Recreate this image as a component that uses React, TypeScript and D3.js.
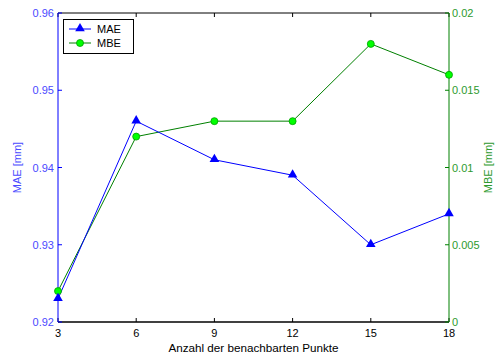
import React from "react";
import * as d3 from "d3";

const xValues = [3, 6, 9, 12, 15, 18];
const maeValues = [0.923, 0.946, 0.941, 0.939, 0.930, 0.934];
const mbeValues = [0.002, 0.012, 0.013, 0.013, 0.018, 0.016];
const xTicks = [3, 6, 9, 12, 15, 18];
const leftTicks = [0.92, 0.93, 0.94, 0.95, 0.96];
const rightTicks = [0, 0.005, 0.01, 0.015, 0.02];
const seriesNames = ["MAE", "MBE"];

const W = 501, H = 360;
const L = 58, R = 449, T = 13, B = 322;
const FONT = "'Liberation Sans', Arial, sans-serif";
const BLUE = "#0000ff";
const BLUE_TXT = "#4a4aff";
const GREEN = "#008000";
const GREEN_TXT = "#2e9a2e";

export default function App() {
  const x = d3.scaleLinear().domain([3, 18]).range([L, R]);
  const yL = d3.scaleLinear().domain([0.92, 0.96]).range([B, T]);
  const yR = d3.scaleLinear().domain([0, 0.02]).range([B, T]);
  const maeLine = d3.line<number>().x((_, i) => x(xValues[i])).y((d) => yL(d))(maeValues) || "";
  const mbeLine = d3.line<number>().x((_, i) => x(xValues[i])).y((d) => yR(d))(mbeValues) || "";
  const tri = d3.symbol().type(d3.symbolTriangle).size(40)() || "";
  const fmtR = (v: number) => (v === 0 ? "0" : String(+v.toFixed(3)));

  return (
    <svg width={W} height={H} style={{ position: "absolute", left: 0, top: 0, background: "#fff" }} fontFamily={FONT}>
      <rect x={0} y={0} width={W} height={H} fill="#fff" />
      {/* box */}
      <line x1={L} x2={R} y1={T} y2={T} stroke="#000" strokeWidth={1} />
      <line x1={L} x2={R} y1={B} y2={B} stroke="#000" strokeWidth={1.5} />
      {xTicks.map((t) => (
        <g key={"xt" + t}>
          <line x1={x(t)} x2={x(t)} y1={B} y2={B - 4} stroke="#000" />
          <line x1={x(t)} x2={x(t)} y1={T} y2={T + 4} stroke="#000" />
          <text x={x(t)} y={B + 15} textAnchor="middle" fontSize={11} fill="#000">{t}</text>
        </g>
      ))}
      <text x={(L + R) / 2} y={352} textAnchor="middle" fontSize={11.7} fill="#000">Anzahl der benachbarten Punkte</text>
      {/* left axis */}
      <line x1={L} x2={L} y1={T} y2={B} stroke={BLUE} />
      {leftTicks.map((t) => (
        <g key={"lt" + t}>
          <line x1={L} x2={L + 4} y1={yL(t)} y2={yL(t)} stroke={BLUE} />
          <text x={L - 4} y={yL(t) + 4} textAnchor="end" fontSize={11} fill={BLUE_TXT}>{t.toFixed(2)}</text>
        </g>
      ))}
      <text transform={`translate(21,${(T + B) / 2}) rotate(-90)`} textAnchor="middle" fontSize={11} fill={BLUE_TXT}>MAE [mm]</text>
      {/* right axis */}
      <line x1={R} x2={R} y1={T} y2={B} stroke={GREEN} />
      {rightTicks.map((t) => (
        <g key={"rt" + t}>
          <line x1={R - 4} x2={R} y1={yR(t)} y2={yR(t)} stroke={GREEN} />
          <text x={R + 3} y={yR(t) + 4} textAnchor="start" fontSize={11} fill={GREEN_TXT}>{fmtR(t)}</text>
        </g>
      ))}
      <text transform={`translate(492,${(T + B) / 2}) rotate(-90)`} textAnchor="middle" fontSize={11} fill={GREEN_TXT}>MBE [mm]</text>
      {/* series */}
      <path d={mbeLine} fill="none" stroke={GREEN} strokeWidth={1} />
      <path d={maeLine} fill="none" stroke={BLUE} strokeWidth={1} />
      {mbeValues.map((v, i) => (
        <circle key={"m" + i} cx={x(xValues[i])} cy={yR(v)} r={3.5} fill="#00ff00" stroke="#00a000" strokeWidth={0.8} />
      ))}
      {maeValues.map((v, i) => (
        <path key={"a" + i} d={tri} transform={`translate(${x(xValues[i])},${yL(v) - 0.5})`} fill={BLUE} />
      ))}
      {/* legend */}
      <rect x={63.5} y={19.5} width={70} height={34} fill="#fff" stroke="#000" strokeWidth={1} />
      <line x1={69} x2={91} y1={29} y2={29} stroke={BLUE} />
      <path d={tri} transform="translate(80,28.5)" fill={BLUE} />
      <text x={97} y={33} fontSize={11} fill="#000">{seriesNames[0]}</text>
      <line x1={69} x2={91} y1={43} y2={43} stroke={GREEN} />
      <circle cx={80} cy={43} r={3.5} fill="#00ff00" stroke="#00a000" strokeWidth={0.8} />
      <text x={97} y={47} fontSize={11} fill="#000">{seriesNames[1]}</text>
    </svg>
  );
}
